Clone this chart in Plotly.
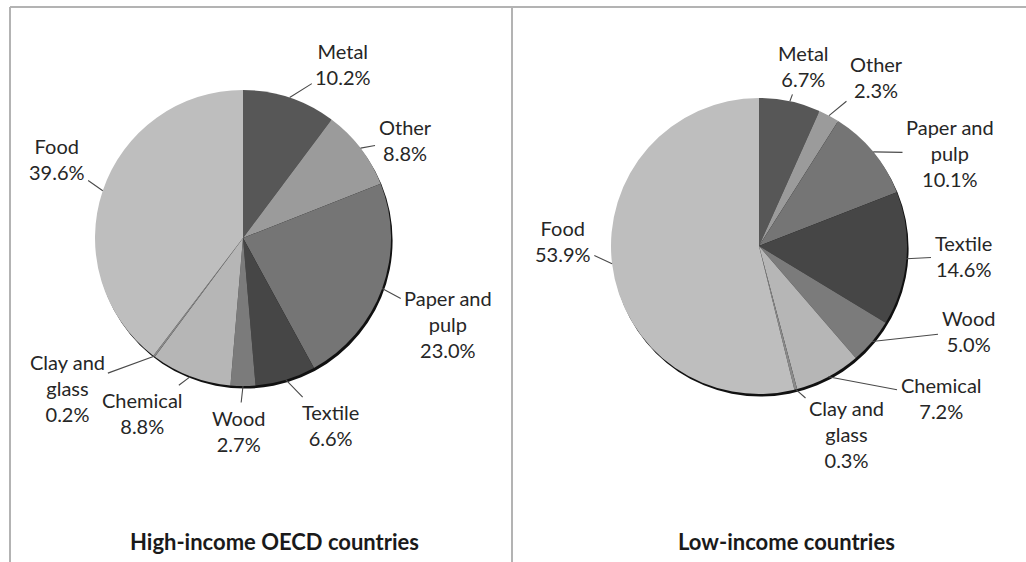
import math
import plotly.graph_objects as go

# Industry shares of manufacturing, clockwise from 12 o'clock
sectors = ["Metal", "Other", "Paper and pulp", "Textile", "Wood",
           "Chemical", "Clay and glass", "Food"]
label_text = ["Metal", "Other", "Paper and<br>pulp", "Textile", "Wood",
              "Chemical", "Clay and<br>glass", "Food"]
high_income = [10.2, 8.8, 23.0, 6.6, 2.7, 8.8, 0.2, 39.6]
low_income = [6.7, 2.3, 10.1, 14.6, 5.0, 7.2, 0.3, 53.9]
titles = ["High-income OECD countries", "Low-income countries"]

colors = ["#575757", "#9b9b9b", "#757575", "#464646", "#7b7b7b",
          "#b6b6b6", "#8a8a8a", "#bebebe"]

W, H = 1026, 562
FONT = "Lato, 'Open Sans', sans-serif"
TEXT_COLOR = "#262626"
LEADER_COLOR = "#4a4a4a"

# Pie geometry in pixels: centre x, centre y, radius
pies = [
    dict(cx=243, cy=238, r=148, values=high_income, title=titles[0], tx=274, ty=541,
         # text-block centres for each slice label
         labels=[(343, 64), (405, 140), (448, 324), (330, 425), (238, 431),
                 (142, 413), (67, 388), (57, 159)]),
    dict(cx=759, cy=246, r=148, values=low_income, title=titles[1], tx=786, ty=541,
         labels=[(803, 66), (876, 77), (950, 153), (963, 256), (968, 331),
                 (941, 398), (846, 434), (563, 241)]),
]


def px(x):
    return x / W


def py(y):
    return 1 - y / H


fig = go.Figure()
shapes = []
annotations = []

for p in pies:
    cx, cy, r = p["cx"], p["cy"], p["r"]
    fig.add_trace(go.Pie(
        labels=sectors,
        values=p["values"],
        sort=False,
        direction="clockwise",
        rotation=0,
        marker=dict(colors=colors, line=dict(width=0)),
        textinfo="none",
        hovertemplate="%{label}: %{value:.1f}%<extra></extra>",
        domain=dict(x=[px(cx - r), px(cx + r)], y=[py(cy + r), py(cy - r)]),
        showlegend=False,
    ))

    # dark rim along the lower-right edge of the pie
    dx, dy = 1.6, 2.6
    shapes.append(dict(
        type="circle", xref="paper", yref="paper", layer="below",
        x0=px(cx - r + dx), x1=px(cx + r + dx),
        y0=py(cy + r + dy), y1=py(cy - r + dy),
        fillcolor="#111111", line=dict(width=0),
    ))

    # slice labels with leader lines to the slice's mid-angle on the rim
    total = sum(p["values"])
    cum = 0.0
    for name, val, (lx, ly) in zip(label_text, p["values"], p["labels"]):
        mid = (cum + val / 2) / total * 2 * math.pi
        cum += val
        tipx = cx + r * math.sin(mid)
        tipy = cy - r * math.cos(mid)
        annotations.append(dict(
            x=px(tipx), y=py(tipy), xref="paper", yref="paper",
            ax=lx - tipx, ay=ly - tipy, axref="pixel", ayref="pixel",
            text=f"{name}<br>{val:.1f}%",
            showarrow=True, arrowhead=0, arrowwidth=1.1,
            arrowcolor=LEADER_COLOR, standoff=0, startstandoff=2,
            font=dict(family=FONT, size=20, color=TEXT_COLOR),
            align="center",
        ))

    annotations.append(dict(
        x=px(p["tx"]), y=py(p["ty"]), xref="paper", yref="paper",
        text=f"<b>{p['title']}</b>", showarrow=False,
        xanchor="center", yanchor="middle",
        font=dict(family=FONT, size=22, color="#1a1a1a"),
    ))

# panel frame: top rule, left rule and the divider between the two panels
frame = [((10, 7), (W, 7)), ((10, 7), (10, H)), ((512, 7), (512, H))]
for (x0, y0), (x1, y1) in frame:
    shapes.append(dict(
        type="line", xref="paper", yref="paper", layer="above",
        x0=px(x0), y0=py(y0), x1=px(x1), y1=py(y1),
        line=dict(color="#b3b3b3", width=2),
    ))

fig.update_layout(
    width=W, height=H,
    margin=dict(l=0, r=0, t=0, b=0),
    paper_bgcolor="white",
    plot_bgcolor="white",
    shapes=shapes,
    annotations=annotations,
    font=dict(family=FONT, color=TEXT_COLOR),
)

fig.write_html("out.html")
